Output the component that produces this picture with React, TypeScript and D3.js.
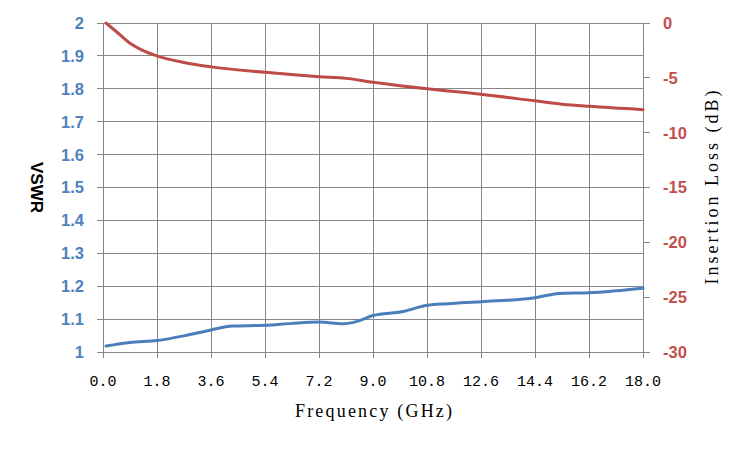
import React from 'react';
import * as d3 from 'd3';

// frequency ticks (GHz)
const freqTicks = [0, 1.8, 3.6, 5.4, 7.2, 9.0, 10.8, 12.6, 14.4, 16.2, 18.0];
const vswrTicks = [1, 1.1, 1.2, 1.3, 1.4, 1.5, 1.6, 1.7, 1.8, 1.9, 2];
const lossTicks = [0, -5, -10, -15, -20, -25, -30];

// VSWR measurement
const vswrFreq = [0.1, 0.9, 1.8, 2.7, 3.6, 4.3, 5.4, 6.3, 7.2, 8.0, 8.5, 9.0, 10.0, 10.8, 11.5, 12.6, 14.4, 15.2, 16.2, 17.1, 18.0];
const vswrValues = [1.018, 1.029, 1.035, 1.049, 1.067, 1.079, 1.081, 1.087, 1.091, 1.086, 1.094, 1.111, 1.123, 1.142, 1.147, 1.153, 1.165, 1.178, 1.180, 1.186, 1.194];

// insertion loss measurement (dB)
const lossFreq = [0.1, 0.45, 0.9, 1.25, 1.8, 2.7, 3.6, 5.4, 7.2, 8.1, 9.0, 10.8, 12.6, 14.4, 15.3, 16.2, 18.0];
const lossValues = [0, -0.8, -1.85, -2.4, -3.0, -3.6, -4.0, -4.5, -4.9, -5.05, -5.4, -6.0, -6.5, -7.1, -7.4, -7.6, -7.9];

const width = 750;
const height = 450;
const margin = { top: 23, right: 107, bottom: 98, left: 103 };

const gridColor = '#868686';
const blue = '#4a7ebb';
const red = '#be4b48';
const blueText = '#4f81bd';
const redText = '#c0504d';

export default function App() {
  const x = d3.scaleLinear().domain([0, 18]).range([margin.left, width - margin.right]);
  const yL = d3.scaleLinear().domain([1, 2]).range([height - margin.bottom, margin.top]);
  const yR = d3.scaleLinear().domain([-30, 0]).range([height - margin.bottom, margin.top]);

  const x0 = x(0), x1 = x(18), yb = yL(1), yt = yL(2);

  const vswrLine = d3.line<number>()
    .x((_, i) => x(vswrFreq[i]))
    .y(d => yL(d))
    .curve(d3.curveMonotoneX);

  const lossLine = d3.line<number>()
    .x((_, i) => x(lossFreq[i]))
    .y(d => yR(d))
    .curve(d3.curveMonotoneX);

  const titleFont = "'Liberation Serif', 'Times New Roman', serif";

  return (
    <svg width={width} height={height} style={{ position: 'absolute', left: 0, top: 0, background: '#fff' }}>
      {/* grid */}
      <g stroke={gridColor} strokeWidth={1} shapeRendering="crispEdges">
        {vswrTicks.map(t => (
          <line key={'h' + t} x1={x0 - 6} x2={x1} y1={yL(t)} y2={yL(t)} />
        ))}
        {freqTicks.map(t => (
          <line key={'v' + t} x1={x(t)} x2={x(t)} y1={yt} y2={yb + 6} />
        ))}
        {lossTicks.map(t => (
          <line key={'r' + t} x1={x1} x2={x1 + 7} y1={yR(t)} y2={yR(t)} />
        ))}
      </g>

      {/* left axis labels */}
      <g fontFamily="'Liberation Sans', Arial, sans-serif" fontWeight="bold" fontSize={16.5} fill={blueText}>
        {vswrTicks.map(t => (
          <text key={t} x={x0 - 19} y={yL(t)} dy="0.36em" textAnchor="end">{d3.format('~g')(t)}</text>
        ))}
      </g>

      {/* right axis labels */}
      <g fontFamily="'Liberation Sans', Arial, sans-serif" fontWeight="bold" fontSize={16.5} fill={redText}>
        {lossTicks.map(t => (
          <text key={t} x={x1 + 20} y={yR(t)} dy="0.36em" textAnchor="start">{t === 0 ? '0' : '-' + Math.abs(t)}</text>
        ))}
      </g>

      {/* x axis labels */}
      <g fontFamily="'Liberation Mono', 'Courier New', monospace" fontSize={15} fill="#000">
        {freqTicks.map(t => (
          <text key={t} x={x(t)} y={386} textAnchor="middle">{t.toFixed(1)}</text>
        ))}
      </g>

      {/* curves */}
      <path d={lossLine(lossValues) || ''} fill="none" stroke={red} strokeWidth={3} strokeLinecap="round" />
      <path d={vswrLine(vswrValues) || ''} fill="none" stroke={blue} strokeWidth={3} strokeLinecap="round" />

      {/* titles */}
      <text x={295} y={417} textLength={157} lengthAdjust="spacing" fontFamily={titleFont} fontSize={18} fill="#000">
        Frequency (GHz)
      </text>
      <text transform={`translate(31,${(yt + yb) / 2}) rotate(90)`} textAnchor="middle"
        fontFamily="'Liberation Sans', Arial, sans-serif" fontWeight="bold" fontSize={17} fill="#000">
        VSWR
      </text>
      <text transform={`translate(718,${(yt + yb) / 2 + 97}) rotate(-90)`} textLength={194} lengthAdjust="spacing"
        fontFamily={titleFont} fontSize={18} fill="#000">
        Insertion Loss (dB)
      </text>
    </svg>
  );
}
